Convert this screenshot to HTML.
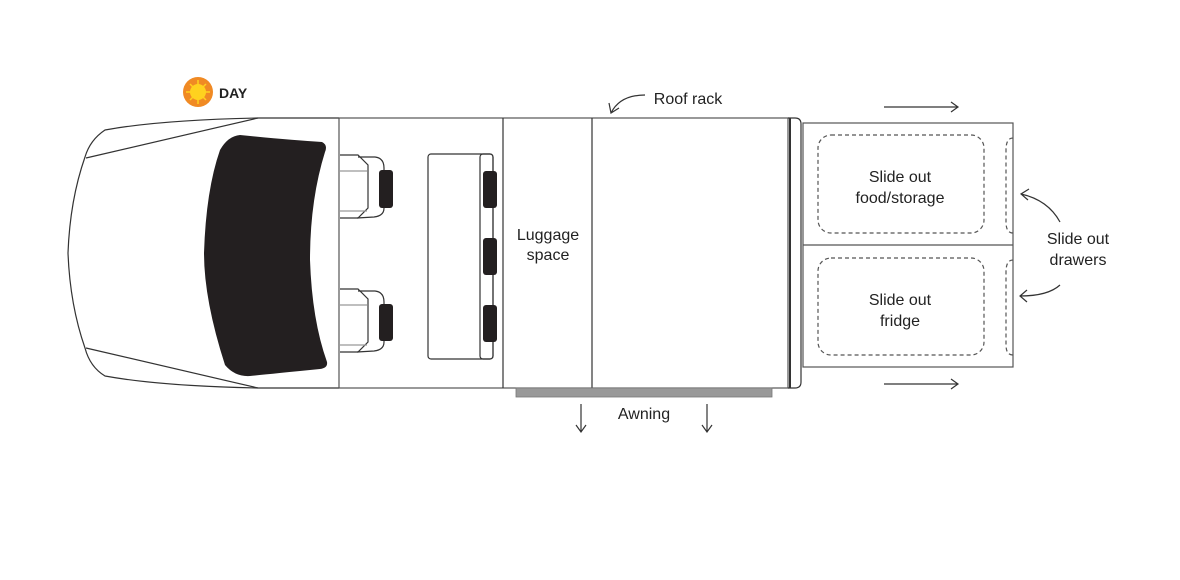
<!DOCTYPE html>
<html><head><style>
html,body{margin:0;padding:0;background:#fff;}
svg text{font-family:"Liberation Sans",sans-serif;fill:#222;}
</style></head><body>
<svg width="1180" height="575" viewBox="0 0 1180 575" xmlns="http://www.w3.org/2000/svg">
<rect width="1180" height="575" fill="#fff"/>
<!-- sun -->
<circle cx="198" cy="92" r="15" fill="#f08a24"/>
<circle cx="198" cy="92" r="8" fill="#ffd21f"/>
<g stroke="#ffd21f" stroke-width="1.5">
<line x1="198" y1="80" x2="198" y2="104"/><line x1="186" y1="92" x2="210" y2="92"/>
<line x1="190" y1="84" x2="206" y2="100"/><line x1="206" y1="84" x2="190" y2="100"/>
</g>
<text x="219" y="98" font-size="14" font-weight="bold">DAY</text>
<g fill="none" stroke="#333" stroke-width="1.2">
<!-- front -->
<path d="M339,118 L258,118 Q160,120 105,130 Q90,140 85,157 Q70,200 68,253 Q70,305 85,348 Q90,367 105,376 Q160,386 258,388 L339,388"/>
<path d="M258,118 L86,158"/><path d="M258,388 L86,348"/>
<rect x="339" y="118" width="449" height="270" stroke="#555"/>
<line x1="503" y1="118" x2="503" y2="388"/>
<line x1="592" y1="118" x2="592" y2="388"/>
<path d="M788,118 L795,118 Q801,118 801,124 L801,382 Q801,388 795,388 L788,388" />
<line x1="790" y1="118" x2="790" y2="388" stroke-width="2"/>
<!-- seats -->
<path d="M340,155 L358,155 L368,165 L368,208 L358,218 L340,218"/>
<path d="M358,157 L375,157 Q384,158 384,168 L384,208 Q384,216 374,217 L357,218"/>
<line x1="340" y1="171" x2="367" y2="171" stroke="#999"/><line x1="340" y1="211" x2="367" y2="211" stroke="#999"/>
<path d="M340,289 L358,289 L368,299 L368,342 L358,352 L340,352"/>
<path d="M358,291 L375,291 Q384,292 384,302 L384,342 Q384,350 374,351 L357,352"/>
<line x1="340" y1="305" x2="367" y2="305" stroke="#999"/><line x1="340" y1="345" x2="367" y2="345" stroke="#999"/>
<!-- bench -->
<rect x="428" y="154" width="65" height="205" rx="3"/>
<rect x="480" y="154" width="13" height="205" rx="3"/>
<!-- drawers -->
<rect x="803" y="123" width="210" height="244" stroke="#555"/>
<line x1="803" y1="245" x2="1013" y2="245" stroke="#555"/>
<g stroke-dasharray="4,3" stroke="#555">
<rect x="818" y="135" width="166" height="98" rx="13"/>
<rect x="818" y="258" width="166" height="97" rx="13"/>
<path d="M1013,138 Q1006,138 1006,150 L1006,222 Q1006,233 1013,233"/>
<path d="M1013,260 Q1006,260 1006,272 L1006,345 Q1006,355 1013,355"/>
</g>
<!-- arrows -->
<path d="M884,107 L958,107 M951,102 L958,107 L951,112"/>
<path d="M884,384 L958,384 M951,379 L958,384 L951,389"/>
<path d="M581,404 L581,432 M576,425 L581,432 L586,425"/>
<path d="M707,404 L707,432 M702,425 L707,432 L712,425"/>
<path d="M645,95 Q620,95 611,113 M609,103 L611,113 L619,108"/>
<path d="M1060,222 Q1048,200 1021,194 M1029,189 L1021,194 L1028,200"/>
<path d="M1060,285 Q1048,296 1020,296 M1027,290 L1020,296 L1027,302"/>
</g>
<!-- hood -->
<path d="M240,135 Q290,140 322,142 Q328,145 325,152 Q310,200 310,260 Q312,320 327,362 Q328,368 320,369 Q270,374 250,376 Q235,377 225,365 Q204,300 204,253 Q206,190 220,150 Q228,136 240,135 Z" fill="#231f20"/>
<g fill="#231f20">
<rect x="379" y="170" width="14" height="38" rx="3"/>
<rect x="379" y="304" width="14" height="37" rx="3"/>
<rect x="483" y="171" width="14" height="37" rx="3"/>
<rect x="483" y="238" width="14" height="37" rx="3"/>
<rect x="483" y="305" width="14" height="37" rx="3"/>
</g>
<rect x="516" y="388" width="256" height="9" fill="#999" stroke="#777" stroke-width="0.8"/>
<g font-size="16" text-anchor="middle">
<text x="548" y="240">Luggage</text><text x="548" y="260">space</text>
<text x="900" y="182">Slide out</text><text x="900" y="203">food/storage</text>
<text x="900" y="305">Slide out</text><text x="900" y="326">fridge</text>
<text x="1078" y="244">Slide out</text><text x="1078" y="265">drawers</text>
<text x="644" y="419">Awning</text>
<text x="688" y="104">Roof rack</text>
</g>
</svg>
</body></html>
